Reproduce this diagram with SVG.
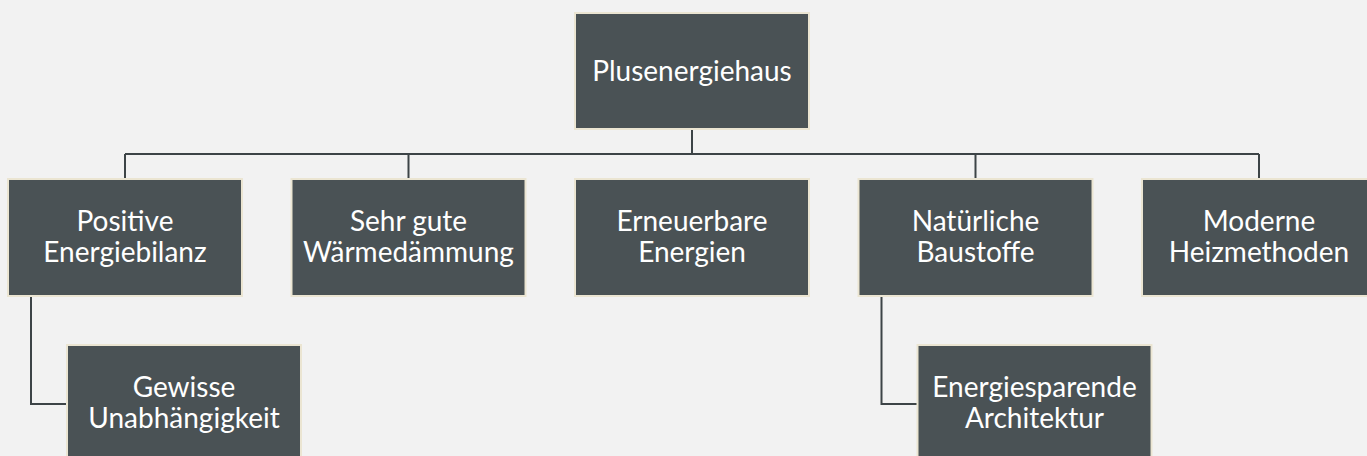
<svg xmlns="http://www.w3.org/2000/svg" width="1367" height="456" viewBox="0 0 1367 456">
<style>
.box{fill:#4a5255;stroke:#ebe5d2;stroke-width:2}
.t{font-family:Lato,"Open Sans","Liberation Sans",sans-serif;font-size:28px;fill:#ffffff;text-anchor:middle}
.c{fill:none;stroke:#3d4447;stroke-width:2}
</style>
<rect width="1367" height="456" fill="#f2f2f2"/>
<g id="connectors">
<path class="c" d="M692 129V154M125 154H1259M125 154V179M408.5 154V179M975.5 154V179M1259 154V179"/>
<path class="c" d="M31 296V404H67"/>
<path class="c" d="M881.5 296V404H917.5"/>
</g>
<g id="n0"><rect class="box" x="575" y="13" width="234" height="116"/><text class="t" x="692" y="81">Plusenergiehaus</text></g>
<g id="n1"><rect class="box" x="8" y="179" width="234" height="117"/><text class="t" x="125" y="231">Positive</text><text class="t" x="125" y="262">Energiebilanz</text></g>
<g id="n2"><rect class="box" x="291.5" y="179" width="234" height="117"/><text class="t" x="408.5" y="231">Sehr gute</text><text class="t" x="408.5" y="262">Wärmedämmung</text></g>
<g id="n3"><rect class="box" x="575" y="179" width="234" height="117"/><text class="t" x="692" y="231">Erneuerbare</text><text class="t" x="692" y="262">Energien</text></g>
<g id="n4"><rect class="box" x="858.5" y="179" width="234" height="117"/><text class="t" x="975.5" y="231">Natürliche</text><text class="t" x="975.5" y="262">Baustoffe</text></g>
<g id="n5"><rect class="box" x="1142" y="179" width="234" height="117"/><text class="t" x="1259" y="231">Moderne</text><text class="t" x="1259" y="262">Heizmethoden</text></g>
<g id="n6"><rect class="box" x="67" y="345" width="234" height="117"/><text class="t" x="184" y="397">Gewisse</text><text class="t" x="184" y="428">Unabhängigkeit</text></g>
<g id="n7"><rect class="box" x="917.5" y="345" width="234" height="117"/><text class="t" x="1034.5" y="397">Energiesparende</text><text class="t" x="1034.5" y="428">Architektur</text></g>
</svg>
